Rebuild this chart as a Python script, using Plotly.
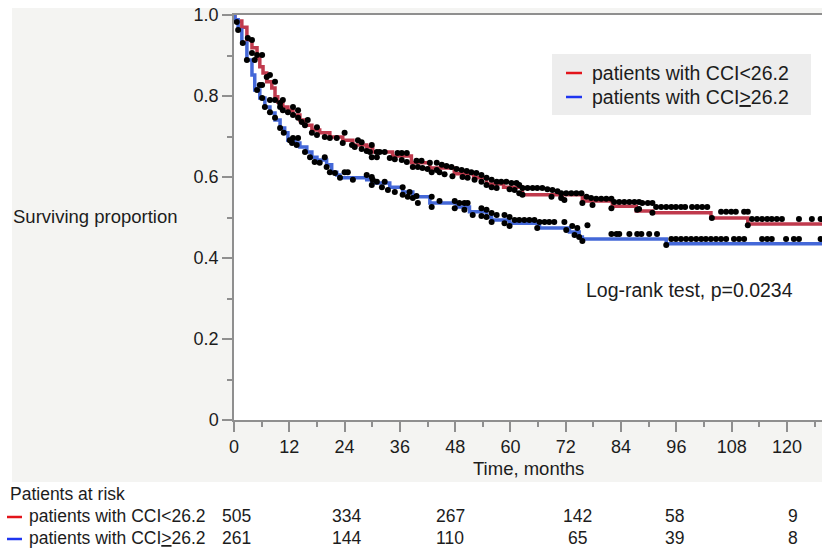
import plotly.graph_objects as go

# ---------------- data ----------------
red_t = [0, 0.2, 1.7, 2.8, 3.9, 5.0, 5.6, 6.3, 7.1, 8.2, 8.9, 9.5, 10.6, 11.7, 12.8, 14.3, 15.4,
         16.9, 18.6, 20.8, 23.6, 25.8, 28.8, 30.1, 34.4, 38.5, 42.5, 47.8, 52.0, 54.8, 58.5,
         62.6, 75.6, 82.1, 87.3, 90.8, 103.5, 111.5, 127.6]
red_s = [1.0, 0.985, 0.970, 0.938, 0.919, 0.894, 0.872, 0.857, 0.835, 0.820, 0.798, 0.785, 0.773,
         0.765, 0.753, 0.741, 0.728, 0.716, 0.709, 0.699, 0.691, 0.679, 0.674, 0.662, 0.652, 0.635,
         0.622, 0.608, 0.598, 0.583, 0.575, 0.556, 0.541, 0.528, 0.516, 0.512, 0.499, 0.484, 0.484]

blue_t = [0, 0.2, 0.9, 1.7, 2.8, 3.9, 4.5, 5.6, 6.7, 7.8, 8.9, 10.0, 11.0, 11.7, 13.2, 14.3, 15.8,
          16.9, 18.0, 20.1, 21.2, 22.3, 23.0, 28.8, 29.9, 33.8, 36.6, 38.8, 42.5, 48.3, 51.1, 54.8,
          55.9, 59.8, 66.3, 72.8, 74.9, 75.6, 93.8, 127.6]
blue_s = [1.0, 0.988, 0.963, 0.931, 0.889, 0.852, 0.815, 0.795, 0.773, 0.758, 0.741, 0.721, 0.709,
          0.691, 0.684, 0.674, 0.662, 0.649, 0.642, 0.630, 0.612, 0.605, 0.598, 0.593, 0.585, 0.575,
          0.563, 0.551, 0.536, 0.526, 0.514, 0.501, 0.494, 0.486, 0.474, 0.464, 0.452, 0.447, 0.435,
          0.435]

red_cens_t = [0.6, 3.0, 3.9, 3.9, 5.0, 6.1, 4.5, 7.1, 7.8, 8.9, 6.1, 7.8, 8.9, 10.0, 10.6, 10.0, 10.6,
              11.7, 12.8, 13.9, 12.8, 13.9, 14.7, 16.0, 15.4, 18.0, 16.9, 18.0, 19.7, 20.8, 22.3, 24.0,
              23.6, 25.6, 26.2, 26.9, 27.7, 27.7, 28.8, 29.9, 29.5, 29.9, 31.0, 31.6, 32.7, 31.0, 33.8,
              34.9, 35.5, 36.4, 37.5, 36.4, 37.5, 38.8, 39.6, 40.7, 39.9, 40.9, 42.0, 42.9, 42.5, 44.0,
              45.1, 46.1, 47.2, 48.3, 49.4, 50.5, 51.5, 52.6, 44.0, 44.6, 45.7, 47.4, 49.6, 50.7, 52.2,
              53.7, 54.8, 55.9, 57.0, 58.0, 59.1, 60.2, 61.3, 61.9, 53.7, 54.8, 55.9, 57.0, 59.8, 60.9,
              61.9, 62.6, 62.6, 63.7, 64.8, 65.8, 66.9, 68.0, 69.1, 70.2, 71.0, 72.1, 73.2, 74.3, 75.4,
              68.9, 71.0, 71.7, 75.6, 76.5, 77.5, 78.6, 79.7, 80.8, 81.9, 77.8, 81.9, 82.5, 83.6, 84.7,
              85.8, 86.9, 87.5, 87.9, 88.6, 89.8, 90.8, 87.9, 90.8, 91.6, 92.7, 93.8, 94.9, 95.9, 97.0,
              97.9, 99.4, 100.5, 101.6, 102.7, 103.7, 105.7, 106.8, 107.9, 108.9, 110.7, 111.5, 111.5,
              112.4, 113.5, 114.6, 115.7, 116.7, 117.8, 118.9, 122.6, 125.4, 127.3]
red_cens_s = [0.983, 0.943, 0.938, 0.906, 0.901, 0.901, 0.889, 0.847, 0.852, 0.835, 0.827, 0.790, 0.790,
              0.783, 0.790, 0.773, 0.765, 0.760, 0.773, 0.765, 0.753, 0.746, 0.736, 0.741, 0.728, 0.723,
              0.709, 0.704, 0.699, 0.696, 0.696, 0.709, 0.684, 0.679, 0.674, 0.691, 0.686, 0.669, 0.664,
              0.679, 0.662, 0.649, 0.662, 0.662, 0.662, 0.649, 0.647, 0.644, 0.659, 0.659, 0.659, 0.642,
              0.637, 0.625, 0.640, 0.640, 0.625, 0.622, 0.620, 0.612, 0.635, 0.635, 0.630, 0.627, 0.625,
              0.620, 0.617, 0.615, 0.612, 0.610, 0.617, 0.612, 0.607, 0.602, 0.600, 0.598, 0.593, 0.605,
              0.598, 0.593, 0.588, 0.588, 0.588, 0.585, 0.585, 0.580, 0.588, 0.580, 0.575, 0.573, 0.570,
              0.568, 0.560, 0.556, 0.573, 0.573, 0.573, 0.573, 0.573, 0.570, 0.568, 0.565, 0.560, 0.560,
              0.560, 0.560, 0.560, 0.551, 0.548, 0.543, 0.536, 0.551, 0.548, 0.546, 0.546, 0.546, 0.546,
              0.531, 0.523, 0.538, 0.538, 0.538, 0.538, 0.538, 0.519, 0.538, 0.536, 0.536, 0.536, 0.521,
              0.512, 0.526, 0.526, 0.526, 0.526, 0.526, 0.526, 0.526, 0.526, 0.526, 0.526, 0.526, 0.499,
              0.514, 0.514, 0.514, 0.514, 0.514, 0.514, 0.481, 0.496, 0.496, 0.496, 0.496, 0.496, 0.496,
              0.496, 0.496, 0.496, 0.496]

blue_cens_t = [0.9, 1.9, 2.8, 5.0, 5.6, 6.1, 6.7, 7.8, 8.9, 10.0, 10.8, 12.1, 12.8, 13.9, 12.6, 13.6,
               15.4, 16.5, 17.5, 18.6, 19.7, 20.1, 20.8, 21.9, 23.0, 24.0, 24.7, 25.8, 28.8, 29.9, 30.1,
               29.9, 31.0, 32.1, 32.7, 33.4, 34.9, 36.6, 36.6, 38.1, 37.7, 38.8, 39.6, 39.9, 42.9, 42.9,
               44.6, 47.9, 48.9, 50.0, 50.7, 47.9, 50.0, 51.8, 53.7, 54.8, 55.9, 57.0, 53.7, 54.8, 55.9,
               58.7, 59.8, 60.9, 61.9, 63.0, 64.1, 65.2, 66.3, 67.4, 68.4, 69.5, 58.7, 59.8, 65.8, 71.7,
               72.1, 73.4, 74.5, 73.9, 74.9, 75.6, 76.7, 81.9, 83.0, 83.6, 85.8, 87.5, 88.4, 90.1, 91.8,
               93.8, 94.9, 95.9, 97.0, 98.1, 99.2, 100.3, 101.4, 102.4, 103.5, 104.6, 105.7, 106.8,
               108.5, 109.6, 110.7, 114.6, 115.7, 116.7, 119.8, 121.5, 122.6, 127.3]
blue_cens_s = [0.963, 0.931, 0.889, 0.815, 0.827, 0.795, 0.773, 0.760, 0.746, 0.721, 0.709, 0.691, 0.696,
               0.696, 0.684, 0.679, 0.662, 0.649, 0.637, 0.635, 0.649, 0.625, 0.612, 0.610, 0.598, 0.612,
               0.612, 0.593, 0.605, 0.600, 0.593, 0.580, 0.588, 0.575, 0.588, 0.568, 0.563, 0.575, 0.556,
               0.563, 0.551, 0.548, 0.553, 0.536, 0.551, 0.526, 0.541, 0.541, 0.536, 0.536, 0.536, 0.523,
               0.519, 0.506, 0.523, 0.519, 0.511, 0.506, 0.504, 0.501, 0.489, 0.506, 0.501, 0.494, 0.494,
               0.494, 0.494, 0.494, 0.489, 0.489, 0.489, 0.489, 0.486, 0.479, 0.474, 0.489, 0.469, 0.479,
               0.474, 0.457, 0.452, 0.442, 0.481, 0.459, 0.459, 0.459, 0.459, 0.459, 0.459, 0.459, 0.459,
               0.432, 0.447, 0.447, 0.447, 0.447, 0.447, 0.447, 0.447, 0.447, 0.447, 0.447, 0.447, 0.447,
               0.447, 0.447, 0.447, 0.447, 0.447, 0.447, 0.447, 0.447, 0.447, 0.447]

group_labels = ["patients with CCI&lt;26.2", "patients with CCI<u>&gt;</u>26.2"]
risk_times = [0, 24, 48, 72, 96, 120]
risk_red = [505, 334, 267, 142, 58, 9]
risk_blue = [261, 144, 110, 65, 39, 8]
x_ticks = list(range(0, 121, 12))
y_ticks = [0, 0.2, 0.4, 0.6, 0.8, 1.0]
y_ticktext = ["0", "0.2", "0.4", "0.6", "0.8", "1.0"]
pvalue_text = "Log-rank test, p=0.0234"

# ---------------- style ----------------
W, H = 822, 551
L, R, T, B = 234, 0, 15, 131
PW, PH = W - L - R, H - T - B
FONT = "Liberation Sans, Arial, Helvetica, sans-serif"
TXT = "#1c1c1c"
RED_LINE, BLUE_LINE = "#c03a4d", "#4468d8"
RED_KEY, BLUE_KEY = "#e3141b", "#1f35f0"


def px_x(px):
    return (px - L) / PW


def px_y(py):
    return (T + PH - py) / PH


fig = go.Figure()
fig.add_trace(go.Scatter(x=red_t, y=red_s, mode="lines", line=dict(color=RED_LINE, width=3.5, shape="hv"),
                         showlegend=False, hoverinfo="skip"))
fig.add_trace(go.Scatter(x=blue_t, y=blue_s, mode="lines", line=dict(color=BLUE_LINE, width=3.5, shape="hv"),
                         showlegend=False, hoverinfo="skip"))
fig.add_trace(go.Scatter(x=red_cens_t, y=red_cens_s, mode="markers",
                         marker=dict(color="black", size=6), showlegend=False))
fig.add_trace(go.Scatter(x=blue_cens_t, y=blue_cens_s, mode="markers",
                         marker=dict(color="black", size=6), showlegend=False))

shapes = [
    dict(type="rect", xref="paper", yref="paper", x0=px_x(12), x1=px_x(W + 2), y0=px_y(482), y1=px_y(8),
         fillcolor="#f4f4f2", line=dict(width=0), layer="below"),
    dict(type="rect", xref="paper", yref="paper", x0=0, x1=px_x(W + 2), y0=0, y1=1,
         fillcolor="white", line=dict(width=0), layer="below"),
    # legend box
    dict(type="rect", xref="paper", yref="paper", x0=px_x(552), x1=px_x(811), y0=px_y(115), y1=px_y(54),
         fillcolor="#ededed", line=dict(width=0), layer="below"),
    dict(type="line", xref="paper", yref="paper", x0=px_x(566), x1=px_x(582), y0=px_y(73), y1=px_y(73),
         line=dict(color=RED_KEY, width=2.5)),
    dict(type="line", xref="paper", yref="paper", x0=px_x(566), x1=px_x(582), y0=px_y(97), y1=px_y(97),
         line=dict(color=BLUE_KEY, width=2.5)),
    # table keys
    dict(type="line", xref="paper", yref="paper", x0=px_x(7), x1=px_x(22), y0=px_y(517), y1=px_y(517),
         line=dict(color=RED_KEY, width=2.5)),
    dict(type="line", xref="paper", yref="paper", x0=px_x(7), x1=px_x(22), y0=px_y(539), y1=px_y(539),
         line=dict(color=BLUE_KEY, width=2.5)),
]

ann = []
ann.append(dict(text=group_labels[0], x=px_x(590), y=px_y(73), xanchor="left", yanchor="middle",
                font=dict(size=19.5)))
ann.append(dict(text=group_labels[1], x=px_x(590), y=px_y(97), xanchor="left", yanchor="middle",
                font=dict(size=19.5)))
ann.append(dict(text=pvalue_text, x=px_x(689), y=px_y(290), xanchor="center", yanchor="middle",
                font=dict(size=19.5)))
ann.append(dict(text="Surviving proportion", x=px_x(95), y=px_y(216), xanchor="center", yanchor="middle",
                font=dict(size=18.5)))
ann.append(dict(text="Time, months", x=0.5, y=px_y(468), xanchor="center", yanchor="middle",
                font=dict(size=18.5)))
ann.append(dict(text="Patients at risk", x=px_x(8), y=px_y(494), xanchor="left", yanchor="middle",
                font=dict(size=17.5)))
ann.append(dict(text=group_labels[0], x=px_x(27), y=px_y(516), xanchor="left", yanchor="middle",
                font=dict(size=17.5)))
ann.append(dict(text=group_labels[1], x=px_x(27), y=px_y(538), xanchor="left", yanchor="middle",
                font=dict(size=17.5)))
col_shift = [2, 2, -5, 12, -2, 6]
for i, t in enumerate(risk_times):
    for val, py in ((risk_red[i], 516), (risk_blue[i], 538)):
        ann.append(dict(text=str(val), x=t, xref="x", y=px_y(py), xanchor="center", yanchor="middle",
                        xshift=col_shift[i], font=dict(size=17.5)))
for a in ann:
    a.setdefault("xref", "paper")
    a["yref"] = "paper"
    a["showarrow"] = False
    a["font"].update(family=FONT, color=TXT)

fig.update_layout(
    width=W, height=H, margin=dict(l=L, r=R, t=T, b=B, pad=0),
    paper_bgcolor="white", plot_bgcolor="white",
    font=dict(family=FONT, color=TXT, size=18),
    shapes=shapes, annotations=ann, showlegend=False,
)
fig.update_xaxes(range=[0, 127.6], tickmode="array", tickvals=x_ticks, ticks="outside", ticklen=10,
                 tickwidth=1.5, tickcolor="#8f8f8f", showline=True, linecolor="#8f8f8f", linewidth=1.5,
                 mirror=True, showgrid=False, zeroline=False, tickfont=dict(size=18, color=TXT),
                 minor=dict(tickmode="linear", tick0=6, dtick=12, ticks="outside", ticklen=5,
                            tickcolor="#8f8f8f", tickwidth=1.5, showgrid=False))
fig.update_yaxes(range=[0, 1], tickmode="array", tickvals=y_ticks, ticktext=y_ticktext, ticks="outside",
                 ticklen=10, tickwidth=1.5, tickcolor="#8f8f8f", showline=True, linecolor="#8f8f8f",
                 linewidth=1.5, showgrid=False, zeroline=False, tickfont=dict(size=18, color=TXT),
                 minor=dict(tickmode="linear", tick0=0.1, dtick=0.2, ticks="outside", ticklen=5,
                            tickcolor="#8f8f8f", tickwidth=1.5, showgrid=False))

fig.write_html("out.html")
